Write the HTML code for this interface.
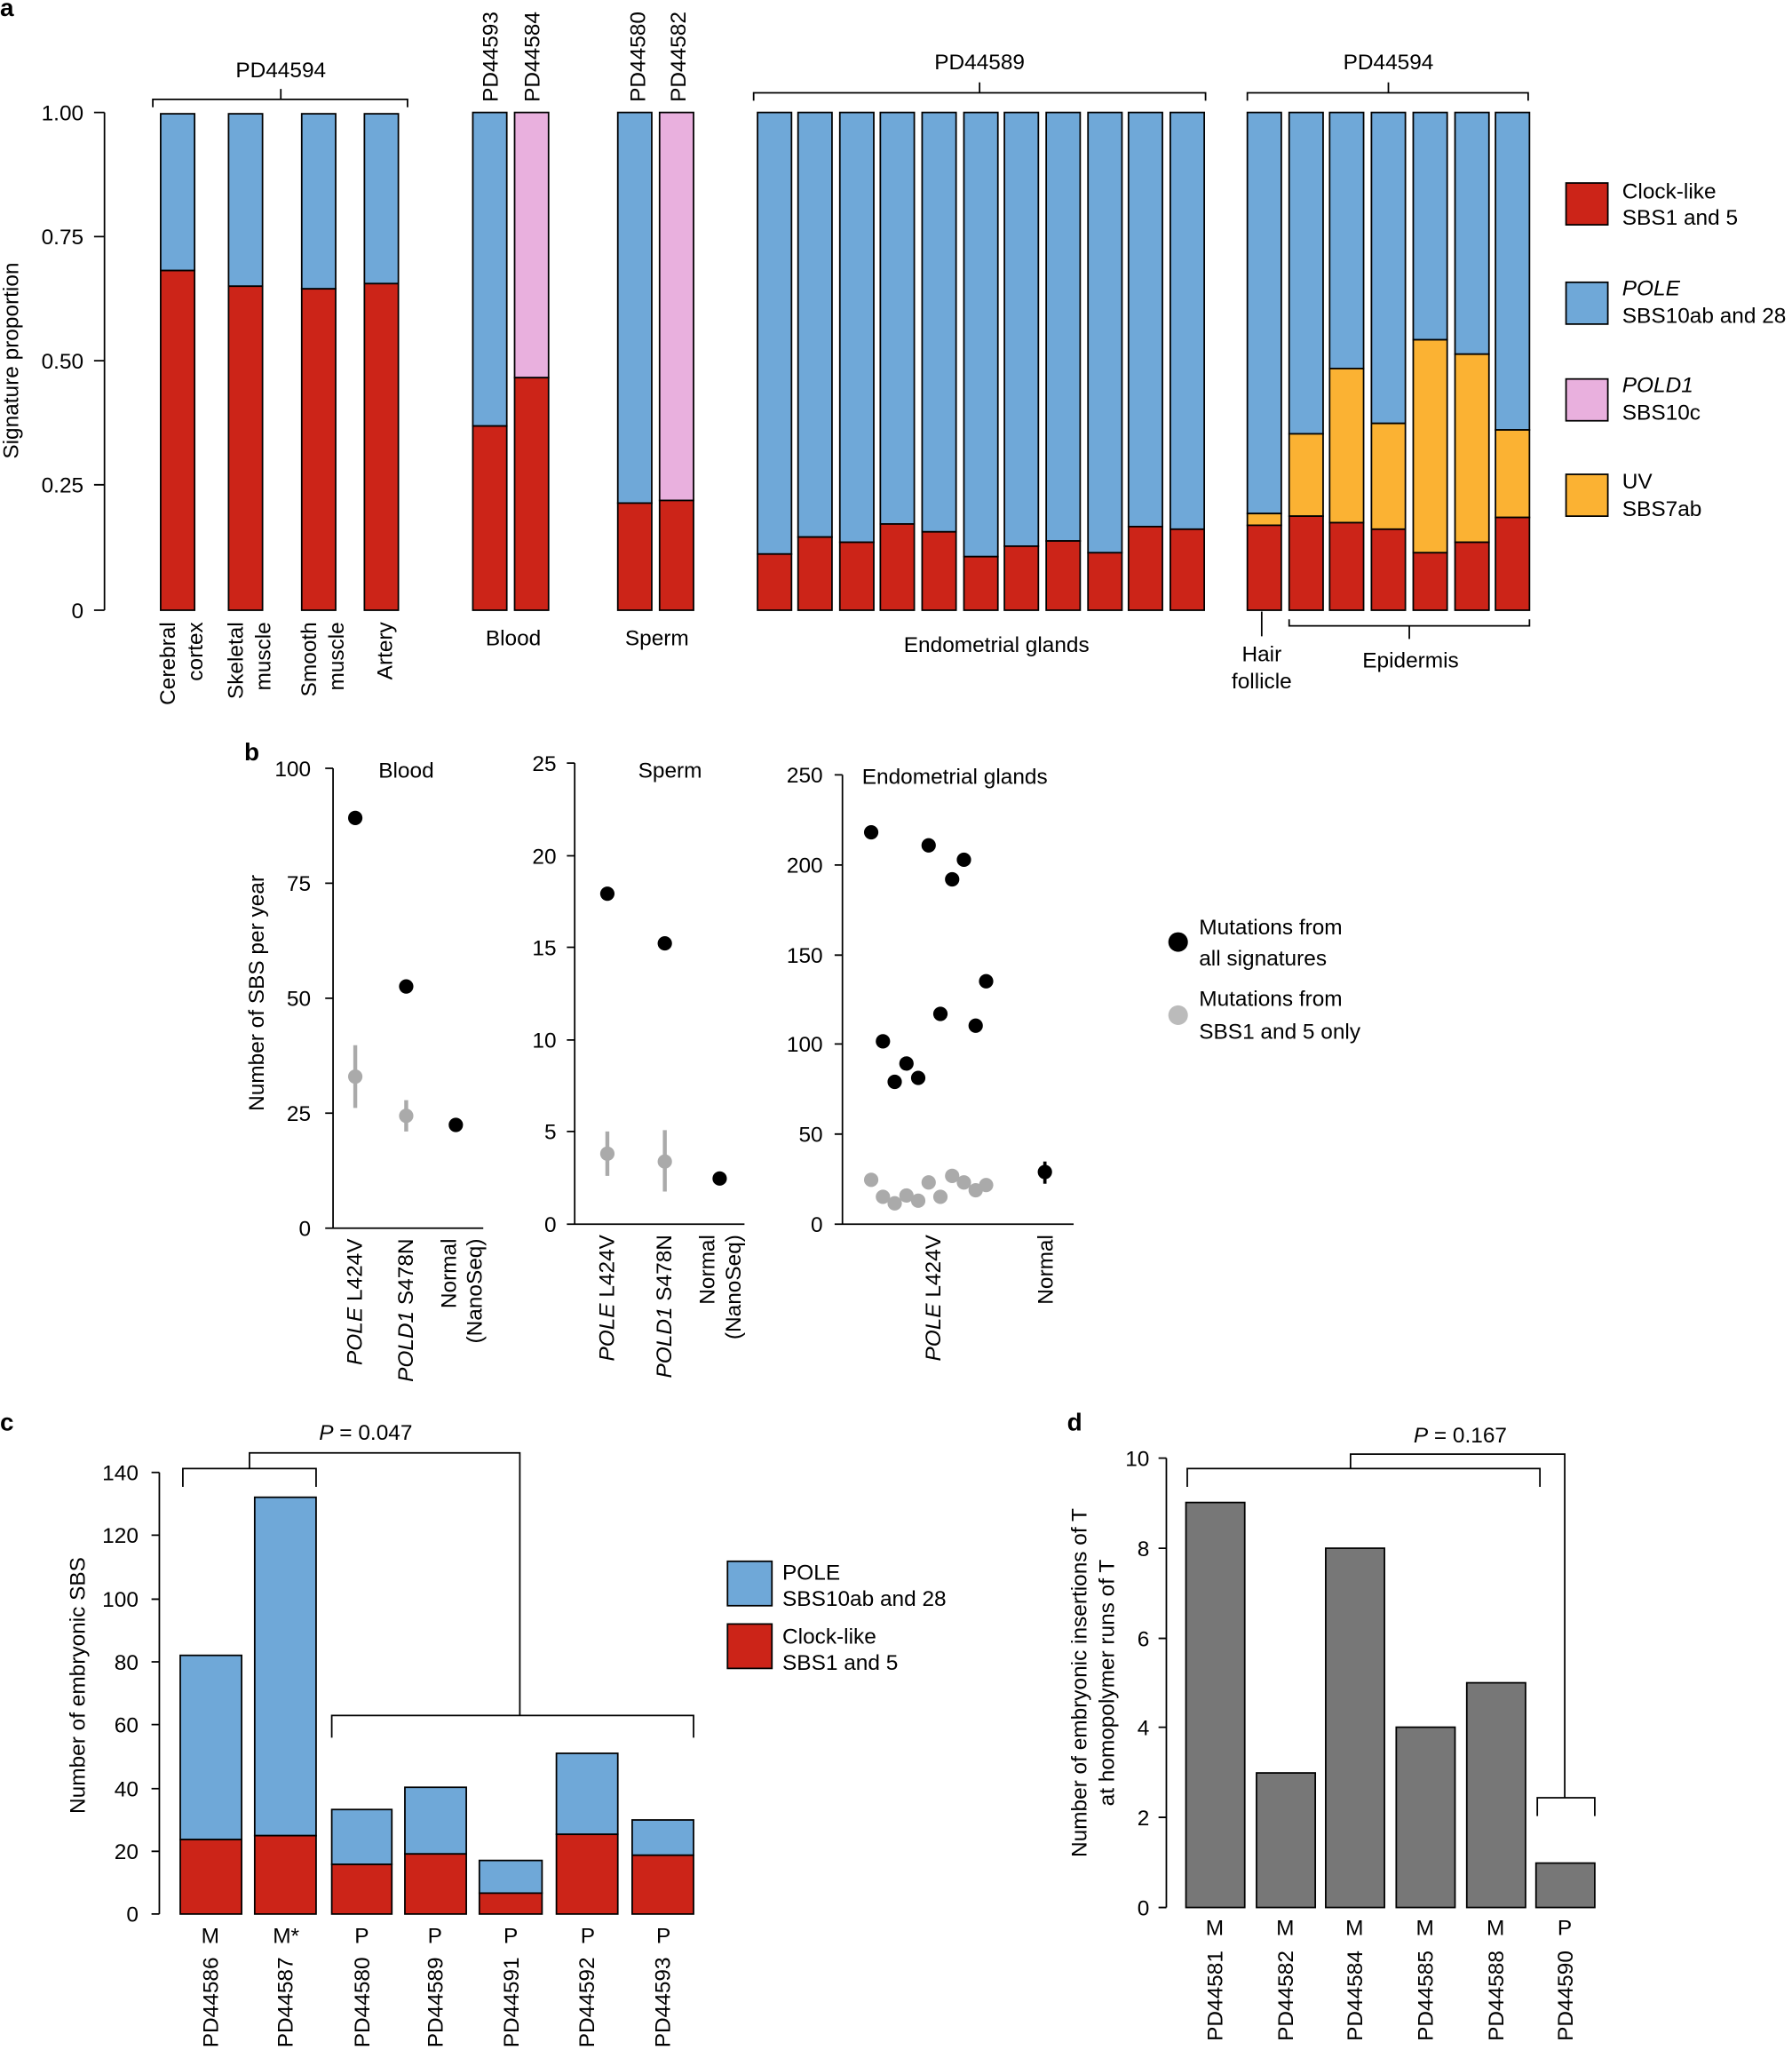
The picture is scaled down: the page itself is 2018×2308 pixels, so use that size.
<!DOCTYPE html>
<html><head><meta charset="utf-8"><style>
html,body{margin:0;padding:0;background:#fff}
svg{display:block}
text{font-family:"Liberation Sans",sans-serif;font-size:16.6px;fill:#000}
.b{font-weight:bold;font-size:19px}
.ax{stroke:#000;stroke-width:1.2;fill:none}
.bar{stroke:#000;stroke-width:1.2}
</style></head><body>
<svg width="2018" height="2308" viewBox="0 0 1372 1569" xmlns="http://www.w3.org/2000/svg">
<text class="b" x="0" y="12">a</text>
<path class="ax" d="M80,86V467M72,86H80M72,181H80M72,276H80M72,371H80M72,467H80"/>
<g text-anchor="end"><text x="64" y="92">1.00</text><text x="64" y="187">0.75</text><text x="64" y="282">0.50</text><text x="64" y="377">0.25</text><text x="64" y="473">0</text></g>
<text transform="translate(14,276) rotate(-90)" text-anchor="middle">Signature proportion</text>
<g class="bar">
<rect x="123" y="87" width="26" height="120" fill="#6fa8d8"/><rect x="123" y="207" width="26" height="260" fill="#cc2418"/>
<rect x="175" y="87" width="26" height="132" fill="#6fa8d8"/><rect x="175" y="219" width="26" height="248" fill="#cc2418"/>
<rect x="231" y="87" width="26" height="134" fill="#6fa8d8"/><rect x="231" y="221" width="26" height="246" fill="#cc2418"/>
<rect x="279" y="87" width="26" height="130" fill="#6fa8d8"/><rect x="279" y="217" width="26" height="250" fill="#cc2418"/>
<rect x="362" y="86" width="26" height="240" fill="#6fa8d8"/><rect x="362" y="326" width="26" height="141" fill="#cc2418"/>
<rect x="394" y="86" width="26" height="203" fill="#e9b0de"/><rect x="394" y="289" width="26" height="178" fill="#cc2418"/>
<rect x="473" y="86" width="26" height="299" fill="#6fa8d8"/><rect x="473" y="385" width="26" height="82" fill="#cc2418"/>
<rect x="505" y="86" width="26" height="297" fill="#e9b0de"/><rect x="505" y="383" width="26" height="84" fill="#cc2418"/>
<rect x="580" y="86" width="26" height="338" fill="#6fa8d8"/><rect x="580" y="424" width="26" height="43" fill="#cc2418"/>
<rect x="611" y="86" width="26" height="325" fill="#6fa8d8"/><rect x="611" y="411" width="26" height="56" fill="#cc2418"/>
<rect x="643" y="86" width="26" height="329" fill="#6fa8d8"/><rect x="643" y="415" width="26" height="52" fill="#cc2418"/>
<rect x="674" y="86" width="26" height="315" fill="#6fa8d8"/><rect x="674" y="401" width="26" height="66" fill="#cc2418"/>
<rect x="706" y="86" width="26" height="321" fill="#6fa8d8"/><rect x="706" y="407" width="26" height="60" fill="#cc2418"/>
<rect x="738" y="86" width="26" height="340" fill="#6fa8d8"/><rect x="738" y="426" width="26" height="41" fill="#cc2418"/>
<rect x="769" y="86" width="26" height="332" fill="#6fa8d8"/><rect x="769" y="418" width="26" height="49" fill="#cc2418"/>
<rect x="801" y="86" width="26" height="328" fill="#6fa8d8"/><rect x="801" y="414" width="26" height="53" fill="#cc2418"/>
<rect x="833" y="86" width="26" height="337" fill="#6fa8d8"/><rect x="833" y="423" width="26" height="44" fill="#cc2418"/>
<rect x="864" y="86" width="26" height="317" fill="#6fa8d8"/><rect x="864" y="403" width="26" height="64" fill="#cc2418"/>
<rect x="896" y="86" width="26" height="319" fill="#6fa8d8"/><rect x="896" y="405" width="26" height="62" fill="#cc2418"/>
<rect x="955" y="86" width="26" height="307" fill="#6fa8d8"/><rect x="955" y="393" width="26" height="9" fill="#fbb233"/><rect x="955" y="402" width="26" height="65" fill="#cc2418"/>
<rect x="987" y="86" width="26" height="246" fill="#6fa8d8"/><rect x="987" y="332" width="26" height="63" fill="#fbb233"/><rect x="987" y="395" width="26" height="72" fill="#cc2418"/>
<rect x="1018" y="86" width="26" height="196" fill="#6fa8d8"/><rect x="1018" y="282" width="26" height="118" fill="#fbb233"/><rect x="1018" y="400" width="26" height="67" fill="#cc2418"/>
<rect x="1050" y="86" width="26" height="238" fill="#6fa8d8"/><rect x="1050" y="324" width="26" height="81" fill="#fbb233"/><rect x="1050" y="405" width="26" height="62" fill="#cc2418"/>
<rect x="1082" y="86" width="26" height="174" fill="#6fa8d8"/><rect x="1082" y="260" width="26" height="163" fill="#fbb233"/><rect x="1082" y="423" width="26" height="44" fill="#cc2418"/>
<rect x="1114" y="86" width="26" height="185" fill="#6fa8d8"/><rect x="1114" y="271" width="26" height="144" fill="#fbb233"/><rect x="1114" y="415" width="26" height="52" fill="#cc2418"/>
<rect x="1145" y="86" width="26" height="243" fill="#6fa8d8"/><rect x="1145" y="329" width="26" height="67" fill="#fbb233"/><rect x="1145" y="396" width="26" height="71" fill="#cc2418"/>
</g>
<path class="ax" d="M117,82V76H312V82M215,76V68M577,77V71H923V77M750,71V63M955,77V71H1170V77M1063,71V63"/>
<text x="215" y="59" text-anchor="middle">PD44594</text>
<text x="750" y="53" text-anchor="middle">PD44589</text>
<text x="1063" y="53" text-anchor="middle">PD44594</text>
<text transform="translate(381,78) rotate(-90)">PD44593</text>
<text transform="translate(413,78) rotate(-90)">PD44584</text>
<text transform="translate(494,78) rotate(-90)">PD44580</text>
<text transform="translate(525,78) rotate(-90)">PD44582</text>
<g text-anchor="end">
<text transform="translate(134,476) rotate(-90)">Cerebral</text><text transform="translate(155,476) rotate(-90)">cortex</text>
<text transform="translate(186,476) rotate(-90)">Skeletal</text><text transform="translate(207,476) rotate(-90)">muscle</text>
<text transform="translate(242,476) rotate(-90)">Smooth</text><text transform="translate(263,476) rotate(-90)">muscle</text>
<text transform="translate(300,476) rotate(-90)">Artery</text>
</g>
<text x="393" y="494" text-anchor="middle">Blood</text>
<text x="503" y="494" text-anchor="middle">Sperm</text>
<text x="763" y="499" text-anchor="middle">Endometrial glands</text>
<path class="ax" d="M966,468V487M987,474V479H1171V474M1079,479V489"/>
<text x="966" y="506" text-anchor="middle">Hair</text><text x="966" y="527" text-anchor="middle">follicle</text>
<text x="1080" y="511" text-anchor="middle">Epidermis</text>
<g class="bar">
<rect x="1199" y="140" width="32" height="32" fill="#cc2418"/>
<rect x="1199" y="216" width="32" height="32" fill="#6fa8d8"/>
<rect x="1199" y="290" width="32" height="32" fill="#e9b0de"/>
<rect x="1199" y="363" width="32" height="32" fill="#fbb233"/>
</g>
<text x="1242" y="152">Clock-like</text><text x="1242" y="172">SBS1 and 5</text>
<text x="1242" y="226" font-style="italic">POLE</text><text x="1242" y="247">SBS10ab and 28</text>
<text x="1242" y="300" font-style="italic">POLD1</text><text x="1242" y="321">SBS10c</text>
<text x="1242" y="374">UV</text><text x="1242" y="395">SBS7ab</text>

<text class="b" x="187" y="582">b</text>
<text transform="translate(202,760) rotate(-90)" text-anchor="middle">Number of SBS per year</text>
<path class="ax" d="M255,588V940H370M249,588H255M249,676H255M249,764H255M249,852H255M249,940H255"/>
<g text-anchor="end"><text x="238" y="594">100</text><text x="238" y="682">75</text><text x="238" y="770">50</text><text x="238" y="858">25</text><text x="238" y="946">0</text></g>
<text x="311" y="595" text-anchor="middle">Blood</text>
<path d="M272,800V848M311,842V866" stroke="#aaa" stroke-width="3"/>
<circle cx="272" cy="824" r="5.5" fill="#aaa"/><circle cx="311" cy="854" r="5.5" fill="#aaa"/>
<circle cx="272" cy="626" r="5.5"/><circle cx="311" cy="755" r="5.5"/><circle cx="349" cy="861" r="5.5"/>
<path class="ax" d="M440,584V937H570M434,584H440M434,655H440M434,725H440M434,796H440M434,866H440M434,937H440"/>
<g text-anchor="end"><text x="426" y="590">25</text><text x="426" y="661">20</text><text x="426" y="731">15</text><text x="426" y="802">10</text><text x="426" y="872">5</text><text x="426" y="943">0</text></g>
<text x="513" y="595" text-anchor="middle">Sperm</text>
<path d="M465,866V900M509,865V912" stroke="#aaa" stroke-width="3"/>
<circle cx="465" cy="883" r="5.5" fill="#aaa"/><circle cx="509" cy="889" r="5.5" fill="#aaa"/>
<circle cx="465" cy="684" r="5.5"/><circle cx="509" cy="722" r="5.5"/><circle cx="551" cy="902" r="5.5"/>
<path d="M551,897V907" stroke="#000" stroke-width="2"/>
<path class="ax" d="M645,593V937H822M639,593H645M639,662H645M639,731H645M639,799H645M639,868H645M639,937H645"/>
<g text-anchor="end"><text x="630" y="599">250</text><text x="630" y="668">200</text><text x="630" y="737">150</text><text x="630" y="805">100</text><text x="630" y="874">50</text><text x="630" y="943">0</text></g>
<text x="660" y="600">Endometrial glands</text>
<g fill="#aaa">
<circle cx="667" cy="903" r="5.5"/><circle cx="676" cy="916" r="5.5"/><circle cx="685" cy="921" r="5.5"/><circle cx="694" cy="915" r="5.5"/><circle cx="703" cy="919" r="5.5"/><circle cx="711" cy="905" r="5.5"/><circle cx="720" cy="916" r="5.5"/><circle cx="729" cy="900" r="5.5"/><circle cx="738" cy="905" r="5.5"/><circle cx="747" cy="911" r="5.5"/><circle cx="755" cy="907" r="5.5"/>
</g>
<g>
<circle cx="667" cy="637" r="5.5"/><circle cx="711" cy="647" r="5.5"/><circle cx="738" cy="658" r="5.5"/><circle cx="729" cy="673" r="5.5"/><circle cx="755" cy="751" r="5.5"/><circle cx="676" cy="797" r="5.5"/><circle cx="720" cy="776" r="5.5"/><circle cx="747" cy="785" r="5.5"/><circle cx="694" cy="814" r="5.5"/><circle cx="685" cy="828" r="5.5"/><circle cx="703" cy="825" r="5.5"/><circle cx="800" cy="897" r="5.5"/>
</g>
<path d="M800,889V906" stroke="#000" stroke-width="2.5"/>
<g text-anchor="end">
<text transform="translate(277,948) rotate(-90)"><tspan font-style="italic">POLE</tspan> L424V</text>
<text transform="translate(316,948) rotate(-90)"><tspan font-style="italic">POLD1</tspan> S478N</text>
<text transform="translate(349,948) rotate(-90)">Normal</text><text transform="translate(369,948) rotate(-90)">(NanoSeq)</text>
<text transform="translate(470,945) rotate(-90)"><tspan font-style="italic">POLE</tspan> L424V</text>
<text transform="translate(514,945) rotate(-90)"><tspan font-style="italic">POLD1</tspan> S478N</text>
<text transform="translate(547,945) rotate(-90)">Normal</text><text transform="translate(567,945) rotate(-90)">(NanoSeq)</text>
<text transform="translate(720,945) rotate(-90)"><tspan font-style="italic">POLE</tspan> L424V</text>
<text transform="translate(806,945) rotate(-90)">Normal</text>
</g>
<circle cx="902" cy="721" r="7.5"/><circle cx="902" cy="777" r="7.5" fill="#bbb"/>
<text x="918" y="715">Mutations from</text><text x="918" y="739">all signatures</text>
<text x="918" y="770">Mutations from</text><text x="918" y="795">SBS1 and 5 only</text>

<text class="b" x="0" y="1095">c</text>
<text transform="translate(65,1290) rotate(-90)" text-anchor="middle">Number of embryonic SBS</text>
<path class="ax" d="M122,1127V1465M116,1127H122M116,1175H122M116,1224H122M116,1272H122M116,1320H122M116,1369H122M116,1417H122M116,1465H122"/>
<g text-anchor="end"><text x="106" y="1133">140</text><text x="106" y="1181">120</text><text x="106" y="1230">100</text><text x="106" y="1278">80</text><text x="106" y="1326">60</text><text x="106" y="1375">40</text><text x="106" y="1423">20</text><text x="106" y="1471">0</text></g>
<g class="bar">
<rect x="138" y="1267" width="47" height="141" fill="#6fa8d8"/><rect x="138" y="1408" width="47" height="57" fill="#cc2418"/>
<rect x="195" y="1146" width="47" height="259" fill="#6fa8d8"/><rect x="195" y="1405" width="47" height="60" fill="#cc2418"/>
<rect x="254" y="1385" width="46" height="42" fill="#6fa8d8"/><rect x="254" y="1427" width="46" height="38" fill="#cc2418"/>
<rect x="310" y="1368" width="47" height="51" fill="#6fa8d8"/><rect x="310" y="1419" width="47" height="46" fill="#cc2418"/>
<rect x="367" y="1424" width="48" height="25" fill="#6fa8d8"/><rect x="367" y="1449" width="48" height="16" fill="#cc2418"/>
<rect x="426" y="1342" width="47" height="62" fill="#6fa8d8"/><rect x="426" y="1404" width="47" height="61" fill="#cc2418"/>
<rect x="484" y="1393" width="47" height="27" fill="#6fa8d8"/><rect x="484" y="1420" width="47" height="45" fill="#cc2418"/>
</g>
<path class="ax" d="M140,1138V1124H242V1138M191,1124V1112H398V1313M254,1330V1313H531V1330"/>
<text x="280" y="1102" text-anchor="middle"><tspan font-style="italic">P</tspan> = 0.047</text>
<g text-anchor="middle"><text x="161" y="1487">M</text><text x="219" y="1487">M*</text><text x="277" y="1487">P</text><text x="333" y="1487">P</text><text x="391" y="1487">P</text><text x="450" y="1487">P</text><text x="508" y="1487">P</text></g>
<g text-anchor="end">
<text transform="translate(167,1498) rotate(-90)">PD44586</text><text transform="translate(224,1498) rotate(-90)">PD44587</text><text transform="translate(283,1498) rotate(-90)">PD44580</text><text transform="translate(339,1498) rotate(-90)">PD44589</text><text transform="translate(397,1498) rotate(-90)">PD44591</text><text transform="translate(455,1498) rotate(-90)">PD44592</text><text transform="translate(513,1498) rotate(-90)">PD44593</text>
</g>
<g class="bar"><rect x="557" y="1195" width="34" height="34" fill="#6fa8d8"/><rect x="557" y="1243" width="34" height="34" fill="#cc2418"/></g>
<text x="599" y="1209">POLE</text><text x="599" y="1229">SBS10ab and 28</text>
<text x="599" y="1258">Clock-like</text><text x="599" y="1278">SBS1 and 5</text>

<text class="b" x="817" y="1095">d</text>
<text transform="translate(832,1288) rotate(-90)" text-anchor="middle">Number of embryonic insertions of T</text>
<text transform="translate(853,1288) rotate(-90)" text-anchor="middle">at homopolymer runs of T</text>
<path class="ax" d="M893,1116V1460M887,1116H893M887,1185H893M887,1254H893M887,1322H893M887,1391H893M887,1460H893"/>
<g text-anchor="end"><text x="880" y="1122">10</text><text x="880" y="1191">8</text><text x="880" y="1260">6</text><text x="880" y="1328">4</text><text x="880" y="1397">2</text><text x="880" y="1466">0</text></g>
<g class="bar" fill="#777">
<rect x="908" y="1150" width="45" height="310"/><rect x="962" y="1357" width="45" height="103"/><rect x="1015" y="1185" width="45" height="275"/><rect x="1069" y="1322" width="45" height="138"/><rect x="1123" y="1288" width="45" height="172"/><rect x="1176" y="1426" width="45" height="34"/>
</g>
<path class="ax" d="M909,1138V1124H1179V1138M1034,1124V1113H1198V1376M1177,1390V1376H1221V1390"/>
<text x="1118" y="1104" text-anchor="middle"><tspan font-style="italic">P</tspan> = 0.167</text>
<g text-anchor="middle"><text x="930" y="1481">M</text><text x="984" y="1481">M</text><text x="1037" y="1481">M</text><text x="1091" y="1481">M</text><text x="1145" y="1481">M</text><text x="1198" y="1481">P</text></g>
<g text-anchor="end">
<text transform="translate(936,1493) rotate(-90)">PD44581</text><text transform="translate(990,1493) rotate(-90)">PD44582</text><text transform="translate(1043,1493) rotate(-90)">PD44584</text><text transform="translate(1097,1493) rotate(-90)">PD44585</text><text transform="translate(1151,1493) rotate(-90)">PD44588</text><text transform="translate(1204,1493) rotate(-90)">PD44590</text>
</g>
</svg>
</body></html>
